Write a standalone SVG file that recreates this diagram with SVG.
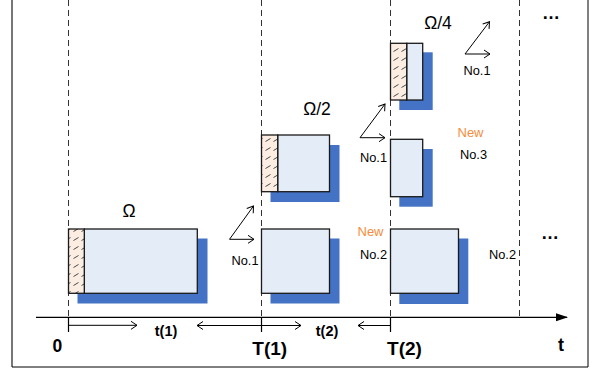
<svg xmlns="http://www.w3.org/2000/svg" width="595" height="372" viewBox="0 0 595 372">
<style>
  text { font-family: "Liberation Sans", Arial, sans-serif; fill: #000; }
  .dash { stroke: #333; stroke-width: 1; stroke-dasharray: 6 4; fill: none; }
  .box { fill: #E4ECF7; stroke: #1a1a1a; stroke-width: 1.3; }
  .hatch { fill: url(#hatchPat); stroke: #1a1a1a; stroke-width: 1.3; }
  .shadow { fill: #4472C4; }
  .arr { stroke: #000; stroke-width: 1; fill: none; marker-end: url(#open); }
  .tick { stroke: #000; stroke-width: 1.2; }
  .lbl { font-size: 12.8px; }
  .new { font-size: 13px; fill: #F58B3C; }
  .omega { font-size: 17.5px; text-anchor: middle; }
  .big { font-weight: bold; text-anchor: middle; }
  .dots { font-size: 18px; font-weight: bold; text-anchor: middle; }
</style>
<defs>
  <pattern id="hatchPat" patternUnits="userSpaceOnUse" width="8" height="9" x="0" y="0">
    <rect width="8" height="9" fill="#FCEDE2"/>
    <line x1="1.5" y1="6.5" x2="6.5" y2="3.5" stroke="#333" stroke-width="0.9"/>
  </pattern>
  <marker id="open" viewBox="0 0 8 10" refX="7" refY="5" markerWidth="8" markerHeight="10" orient="auto" markerUnits="userSpaceOnUse">
    <path d="M1,1 L7,5 L1,9" fill="none" stroke="#000" stroke-width="1"/>
  </marker>
  <marker id="solid" viewBox="0 0 12 10" refX="11" refY="5" markerWidth="12" markerHeight="10" orient="auto" markerUnits="userSpaceOnUse">
    <path d="M0,1 L12,5 L0,9 Z" fill="#000"/>
  </marker>
</defs>

<!-- frame -->
<g id="frame">
  <line x1="12" y1="0" x2="12" y2="367" stroke="#777" stroke-width="2"/>
  <path d="M12,367 H588 V0" fill="none" stroke="#000" stroke-width="1"/>
</g>

<!-- dashed time guides -->
<g id="guides">
  <line class="dash" x1="68.5" y1="0" x2="68.5" y2="317"/>
  <line class="dash" x1="261.5" y1="0" x2="261.5" y2="317"/>
  <line class="dash" x1="390.5" y1="0" x2="390.5" y2="317"/>
  <line class="dash" x1="519.5" y1="0" x2="519.5" y2="317"/>
</g>

<!-- nodes -->
<g id="node-omega">
  <rect class="shadow" x="77.5" y="238.5" width="130" height="65"/>
  <rect class="box" x="84.3" y="229" width="113" height="64.3"/>
  <rect class="hatch" x="68.5" y="229" width="15.8" height="64.3"/>
  <text class="omega" x="129" y="216.7">Ω</text>
</g>

<g id="node-T1-no1">
  <rect class="shadow" x="270.5" y="238.5" width="69" height="65"/>
  <rect class="box" x="261.5" y="229" width="68" height="64.3"/>
</g>

<g id="node-omega2">
  <rect class="shadow" x="270.5" y="145" width="69" height="57"/>
  <rect class="box" x="277.7" y="135" width="51.8" height="56.7"/>
  <rect class="hatch" x="261.5" y="135" width="16.2" height="56.7"/>
  <text class="omega" x="317" y="115">Ω/2</text>
</g>

<g id="node-T2-no2">
  <rect class="shadow" x="399.3" y="238.5" width="69" height="65.5"/>
  <rect class="box" x="390.5" y="229" width="68" height="64.3"/>
</g>

<g id="node-no3">
  <rect class="shadow" x="399.3" y="149" width="33.4" height="57.7"/>
  <rect class="box" x="390.5" y="139.3" width="32.2" height="57.4"/>
</g>

<g id="node-omega4">
  <rect class="shadow" x="399.3" y="52.3" width="33.4" height="57.7"/>
  <rect class="box" x="406.7" y="43.3" width="16" height="56.7"/>
  <rect class="hatch" x="390.5" y="43.3" width="16.2" height="56.7"/>
  <text class="omega" x="438" y="28.5">Ω/4</text>
</g>

<!-- connectors -->
<g id="connectors">
  <!-- time axis -->
  <line x1="36" y1="317.3" x2="567" y2="317.3" stroke="#000" stroke-width="1.2" marker-end="url(#solid)"/>
  <line class="tick" x1="68.5" y1="317" x2="68.5" y2="332"/>
  <line class="tick" x1="261.5" y1="317" x2="261.5" y2="332"/>
  <line class="tick" x1="390.5" y1="317" x2="390.5" y2="332"/>
  <!-- interval arrows -->
  <line class="arr" x1="68.5" y1="325.3" x2="137" y2="325.3"/>
  <line class="arr" x1="261.5" y1="325.5" x2="197" y2="325.5"/>
  <line class="arr" x1="261.5" y1="325.5" x2="301" y2="325.5"/>
  <line class="arr" x1="390.5" y1="325.5" x2="358" y2="325.5"/>
  <!-- split arrows -->
  <line class="arr" x1="229.5" y1="239.3" x2="253.5" y2="206"/>
  <line class="arr" x1="229.5" y1="239.3" x2="254" y2="239.3"/>
  <line class="arr" x1="360" y1="137.7" x2="385" y2="104"/>
  <line class="arr" x1="360" y1="137.7" x2="385" y2="137.7"/>
  <line class="arr" x1="465" y1="54" x2="489.5" y2="21.7"/>
  <line class="arr" x1="465" y1="54" x2="490" y2="54"/>
</g>

<!-- labels -->
<g id="labels">
  <text class="lbl" x="231.5" y="264.5">No.1</text>
  <text class="lbl" x="360" y="161.5">No.1</text>
  <text class="lbl" x="463.5" y="74.5">No.1</text>
  <text class="new" x="457.5" y="136.5">New</text>
  <text class="lbl" x="460" y="158.5">No.3</text>
  <text class="new" x="357.5" y="235.5">New</text>
  <text class="lbl" x="360" y="258.5">No.2</text>
  <text class="lbl" x="489" y="258.5">No.2</text>
  <text class="dots" x="551" y="19">…</text>
  <text class="dots" x="550" y="239">…</text>
  <text class="big" x="166" y="335.5" font-size="14.5">t(1)</text>
  <text class="big" x="327" y="335.5" font-size="14.5">t(2)</text>
  <text class="big" x="57.3" y="351.7" font-size="17.5">0</text>
  <text class="big" x="269.7" y="355" font-size="19">T(1)</text>
  <text class="big" x="404.5" y="355" font-size="19">T(2)</text>
  <text class="big" x="561" y="351" font-size="18">t</text>
</g>
</svg>
